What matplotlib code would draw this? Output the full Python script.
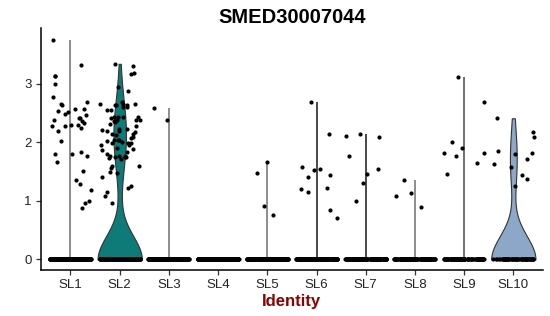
import numpy as np
import matplotlib.pyplot as plt

plt.rcParams['font.family'] = ['Liberation Sans', 'DejaVu Sans']

groups = ['SL1', 'SL2', 'SL3', 'SL4', 'SL5', 'SL6', 'SL7', 'SL8', 'SL9', 'SL10']

# number of cells with zero expression per cluster (estimated)
n_zero = [260, 165, 220, 220, 200, 180, 170, 140, 90, 60]

# non-zero expression values per cluster
sl1 = [3.75, 3.32, 3.13, 3.13, 3.00, 2.78, 2.69, 2.65, 2.64, 2.57, 2.57, 2.54,
       2.52, 2.47, 2.49, 2.42, 2.38, 2.41, 2.37, 2.33, 2.30, 2.27, 2.27, 2.30,
       2.25, 2.19, 2.02, 1.80, 1.84, 1.76, 1.80, 1.66, 1.51, 1.35, 1.29, 1.19,
       1.00, 0.96, 0.87]
sl2 = [3.31, 3.34, 3.19, 3.16, 2.94, 2.87, 2.66, 2.64, 2.65, 2.65, 2.68, 2.64,
       2.61, 2.61, 2.63, 2.56, 2.55, 2.41, 2.38, 2.38, 2.37, 2.43, 2.43, 2.43,
       2.43, 2.38, 2.34, 2.31, 2.27, 2.22, 2.23, 2.21, 2.18, 2.14, 2.19, 2.20,
       2.13, 2.15, 2.09, 2.04, 2.07, 2.04, 2.04, 2.01, 2.02, 1.98, 1.98, 1.98,
       1.95, 1.95, 1.89, 1.90, 1.87, 1.84, 1.73, 1.75, 1.75, 1.76, 1.76, 1.76,
       1.71, 1.75, 1.80, 1.59, 1.56, 1.60, 1.50, 1.41, 1.48, 1.25, 1.22, 1.16,
       1.08, 0.96]
sl3 = [2.58, 2.38]
sl4 = []
sl5 = [1.66, 1.47, 0.92, 0.76]
sl6 = [2.68, 2.14, 1.58, 1.54, 1.52, 1.41, 1.45, 1.22, 1.20, 1.15, 0.85, 0.71]
sl7 = [2.14, 2.09, 2.11, 1.76, 1.55, 1.46, 1.30, 1.00]
sl8 = [1.36, 1.09, 1.13, 0.89]
sl9 = [3.11, 2.68, 2.01, 1.90, 1.82, 1.81, 1.77, 1.64, 1.46]
sl10 = [2.41, 2.09, 2.17, 1.63, 1.81, 1.80, 1.86, 1.71, 1.57, 1.45, 1.38, 1.26]
nonzero = [sl1, sl2, sl3, sl4, sl5, sl6, sl7, sl8, sl9, sl10]

violin_colors = {'SL2': '#0F7B79', 'SL10': '#8CA7C7'}
line_colors = {'SL1': '#7a7a7a', 'SL3': '#7a7a7a', 'SL5': '#7a7a7a',
               'SL6': '#2a2a2a', 'SL7': '#2a2a2a', 'SL8': '#7a7a7a',
               'SL9': '#555555'}
bandwidth = 0.4

fig = plt.figure(figsize=(5.5, 3.16), dpi=100)
ax = fig.add_axes([0.0745, 0.1456, 0.9125, 0.7655])

rng = np.random.default_rng(7)

for i, g in enumerate(groups):
    pos = i + 1
    vals = np.concatenate([np.zeros(n_zero[i]), np.array(nonzero[i], dtype=float)])
    if g in violin_colors:
        sd = np.std(vals, ddof=1)
        parts = ax.violinplot([vals], positions=[pos], widths=0.9,
                              showextrema=False,
                              bw_method=lambda k, s=sd: bandwidth / s)
        for b in parts['bodies']:
            b.set_facecolor(violin_colors[g])
            b.set_edgecolor('#333333')
            b.set_linewidth(0.8)
            b.set_alpha(1)
            b.set_zorder(1)
    elif len(nonzero[i]) > 0:
        ax.vlines(pos, 0, vals.max(), color=line_colors[g], lw=1.2, zorder=1)
    jit = rng.uniform(-0.42, 0.42, len(vals))
    ax.scatter(pos + jit, vals, s=9, color='black', linewidths=0, zorder=3)

ax.set_xlim(0.4, 10.6)
ax.set_ylim(-0.18, 3.95)
ax.set_xticks(range(1, len(groups) + 1))
ax.set_xticklabels(groups)
ax.set_yticks([0, 1, 2, 3])

for side in ['top', 'right']:
    ax.spines[side].set_visible(False)
for side in ['left', 'bottom']:
    ax.spines[side].set_color('black')
    ax.spines[side].set_linewidth(1.1)
ax.tick_params(axis='both', length=3.5, width=0.9, color='#333333',
               labelsize=9.5, labelcolor='#222222', pad=3)

ax.set_title('SMED30007044', fontsize=14.5, fontweight='bold', pad=4)
ax.set_xlabel('Identity', fontsize=12, fontweight='bold', color='#8B0000',
              labelpad=2)

fig.savefig('out.png', dpi=100)
